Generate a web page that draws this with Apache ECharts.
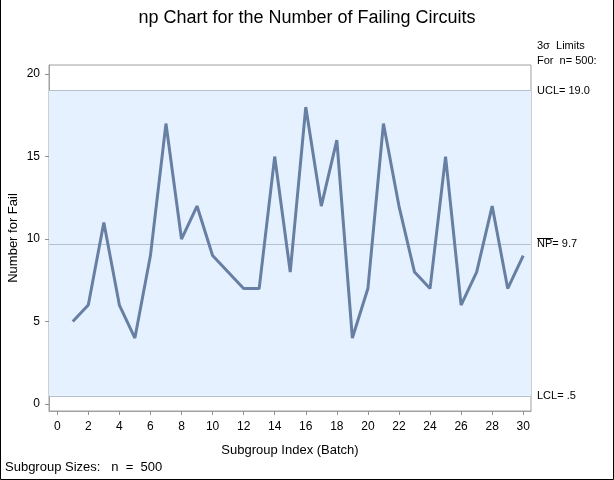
<!DOCTYPE html>
<html><head><meta charset="utf-8">
<script src="https://cdn.jsdelivr.net/npm/echarts@6/dist/echarts.min.js"></script>
<style>html,body{margin:0;padding:0;background:#fff}#c{width:614px;height:480px}</style>
</head><body><div id="c"></div>
<script>
// ---- data ----
const batches  = [1,2,3,4,5,6,7,8,9,10,11,12,13,14,15,16,17,18,19,20,21,22,23,24,25,26,27,28,29,30];
const failures = [5,6,11,6,4,9,17,10,12,9,8,7,7,15,8,18,12,16,4,7,17,12,8,7,15,6,8,12,7,9];
const xTicks = [0,2,4,6,8,10,12,14,16,18,20,22,24,26,28,30];
const yTicks = [0,5,10,15,20];
const UCL = 19.0;
const NP = 9.7;
const LCL = 0.5;
const SAMPLE_N = 500;

const FONT = '"Liberation Sans", Arial, sans-serif';
const chart = echarts.init(document.getElementById('c'), null, {renderer: 'canvas'});

const seriesData = batches.map((b, i) => [b, failures[i]]);

chart.setOption({
  animation: false,
  backgroundColor: '#ffffff',
  textStyle: {fontFamily: FONT, color: '#000'},
  title: {
    text: 'np Chart for the Number of Failing Circuits',
    left: 'center', top: 4,
    textStyle: {fontFamily: FONT, fontSize: 18, fontWeight: 'normal', color: '#000'}
  },
  grid: {
    left: 49, right: 83, top: 65, bottom: 69,
    containLabel: false, outerBoundsMode: 'none',
    show: true, borderColor: '#a0a0a0', borderWidth: 1, backgroundColor: '#ffffff'
  },
  xAxis: {
    type: 'value', min: -0.53, max: 30.5,
    name: 'Subgroup Index (Batch)', nameLocation: 'middle', nameGap: 33, nameMoveOverlap: false,
    nameTextStyle: {fontFamily: FONT, fontSize: 13, color: '#000'},
    axisLine: {show: true, onZero: false, lineStyle: {color: '#a0a0a0'}},
    axisTick: {show: true, length: 4, customValues: xTicks, lineStyle: {color: '#909090'}},
    axisLabel: {customValues: xTicks, margin: 10, fontFamily: FONT, fontSize: 12, color: '#000'},
    splitLine: {show: false}
  },
  yAxis: {
    type: 'value', min: -0.42, max: 20.55,
    name: 'Number for Fail', nameLocation: 'middle', nameGap: 29, nameRotate: 90, nameMoveOverlap: false,
    nameTextStyle: {fontFamily: FONT, fontSize: 13, color: '#000'},
    axisLine: {show: true, onZero: false, lineStyle: {color: '#a0a0a0'}},
    axisTick: {show: true, length: 4, customValues: yTicks, lineStyle: {color: '#909090'}},
    axisLabel: {customValues: yTicks, margin: 9, fontFamily: FONT, fontSize: 12, color: '#000'},
    splitLine: {show: false}
  },
  series: [{
    type: 'line',
    data: seriesData,
    showSymbol: false,
    lineStyle: {color: '#667fa2', width: 3},
    z: 5,
    markArea: {
      silent: true,
      itemStyle: {color: '#e6f1ff'},
      data: [[{yAxis: LCL}, {yAxis: UCL}]]
    },
    markLine: {
      silent: true, symbol: 'none', animation: false,
      lineStyle: {color: '#b4bfcf', width: 1, type: 'solid'},
      label: {
        position: 'end', distance: 6, color: '#000',
        fontFamily: FONT, fontSize: 11, padding: [3, 0, 0, 0]
      },
      data: [
        {yAxis: UCL, label: {formatter: 'UCL= ' + UCL.toFixed(1)}},
        {yAxis: NP,  label: {formatter: 'NP= ' + NP.toFixed(1)}},
        {yAxis: LCL, label: {formatter: 'LCL= ' + String(LCL).replace(/^0/, '')}}
      ]
    }
  }]
});

// annotations depending on axis positions
const gridRight = 614 - 83;
const yUCL = chart.convertToPixel({yAxisIndex: 0}, UCL);
const yNP = chart.convertToPixel({yAxisIndex: 0}, NP);
chart.setOption({
  graphic: [
    {type: 'text', left: gridRight + 6, top: yUCL - 50,
     style: {text: '3\u03c3  Limits', font: '11px ' + FONT, fill: '#000'}},
    {type: 'text', left: gridRight + 6, top: yUCL - 35,
     style: {text: 'For  n= ' + SAMPLE_N + ':', font: '11px ' + FONT, fill: '#000'}},
    {type: 'line', shape: {x1: gridRight + 6, y1: yNP - 5.5, x2: gridRight + 22, y2: yNP - 5.5},
     style: {stroke: '#000', lineWidth: 1}},
    {type: 'text', left: 5, top: 461,
     style: {text: 'Subgroup Sizes:   n  =  ' + SAMPLE_N, font: '13px ' + FONT, fill: '#000'}},
    {type: 'polyline', shape: {points: [[0.5, 0], [0.5, 479.5], [613.5, 479.5], [613.5, 0]]},
     style: {stroke: '#000', lineWidth: 1, fill: null}}
  ]
});
</script>
</body></html>
